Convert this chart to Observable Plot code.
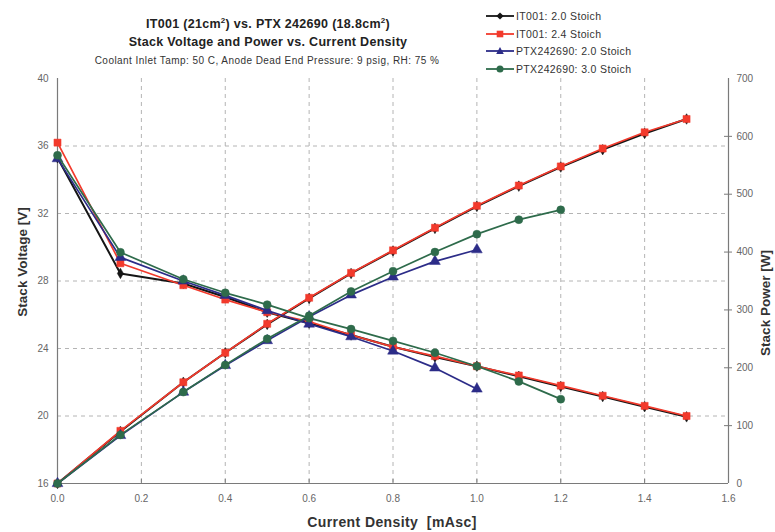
<!DOCTYPE html>
<html>
<head>
<meta charset="utf-8">
<script src="https://cdn.jsdelivr.net/npm/d3@7"></script>
<script src="https://cdn.jsdelivr.net/npm/@observablehq/plot@0.6"></script>
<style>
  html, body { margin: 0; padding: 0; background: #fff; }
  #wrap { position: relative; width: 775px; height: 532px; font-family: "Liberation Sans", Arial, sans-serif; }
  #chart { position: absolute; left: 0; top: 0; }
  .t { position: absolute; white-space: nowrap; color: #222; }
  .title { font-weight: bold; font-size: 12.5px; letter-spacing: 0.3px; transform: translateX(-50%); }
  .sub { font-size: 10px; letter-spacing: 0.45px; transform: translateX(-50%); color: #333; }
  .axlab { font-weight: bold; font-size: 13.5px; color: #333; }
  .leg { position: absolute; left: 486px; display: flex; align-items: center; font-size: 10.5px; letter-spacing: 0.35px; color: #333; }
  .leg svg { margin-right: 2px; }
</style>
</head>
<body>
<div id="wrap">
  <div id="chart"></div>
  <div class="t title" style="left:268px; top:17px;">IT001 (21cm<sup style="font-size:8px;vertical-align:5px;line-height:0">2</sup>) vs. PTX 242690 (18.8cm<sup style="font-size:8px;vertical-align:5px;line-height:0">2</sup>)</div>
  <div class="t title" style="left:268px; top:35px;">Stack Voltage and Power vs. Current Density</div>
  <div class="t sub" style="left:267px; top:55px;">Coolant Inlet Tamp: 50 C, Anode Dead End Pressure: 9 psig, RH: 75 %</div>
  <div id="legend"></div>
  <div class="t axlab" style="left:22px; top:262px; transform: translate(-50%,-50%) rotate(-90deg);">Stack Voltage [V]</div>
  <div class="t axlab" style="left:765px; top:303px; transform: translate(-50%,-50%) rotate(-90deg);">Stack Power [W]</div>
  <div class="t axlab" style="left:392px; top:522px; font-size:14px; letter-spacing:0.4px; transform: translate(-50%,-50%);">Current Density&nbsp; [mAsc]</div>
</div>
<script>
// ---- data ----
const currentDensity = [0, 0.15, 0.3, 0.4, 0.5, 0.6, 0.7, 0.8, 0.9, 1.0, 1.1, 1.2, 1.3, 1.4, 1.5];

const seriesNames = ["IT001: 2.0 Stoich", "IT001: 2.4 Stoich", "PTX242690: 2.0 Stoich", "PTX242690: 3.0 Stoich"];
const seriesColors = ["#151515", "#f23a2c", "#2c2c88", "#2e6b4b"];
const seriesSymbols = ["diamond", "square", "triangle", "circle"];

const it001_20_voltage = [35.3, 28.45, 27.85, 27.05, 26.15, 25.5, 24.8, 24.1, 23.5, 22.95, 22.35, 21.75, 21.15, 20.55, 19.95];
const it001_20_power   = [0, 90, 175, 226, 275, 320, 363, 402, 441, 479, 514, 547, 577, 605, 630];

const it001_24_voltage = [36.2, 29.05, 27.75, 26.9, 26.15, 25.6, 24.8, 24.1, 23.55, 22.95, 22.4, 21.8, 21.2, 20.6, 20.0];
const it001_24_power   = [0, 91, 175, 226, 276, 321, 364, 403, 442, 480, 515, 548, 579, 607, 630];

const ptx_20_voltage = [35.25, 29.4, 28.0, 27.15, 26.25, 25.45, 24.7, 23.85, 22.85, 21.6];
const ptx_20_power   = [0, 83, 158, 204, 247, 288, 326, 357, 384, 404];

const ptx_30_voltage = [35.45, 29.7, 28.1, 27.3, 26.6, 25.8, 25.15, 24.45, 23.75, 22.95, 22.05, 21.0];
const ptx_30_power   = [0, 84, 158, 205, 250, 290, 332, 367, 400, 431, 456, 473];

const xTicks = [0, 0.2, 0.4, 0.6, 0.8, 1.0, 1.2, 1.4, 1.6];
const voltageTicks = [16, 20, 24, 28, 32, 36, 40];
const powerTicks = [0, 100, 200, 300, 400, 500, 600, 700];

// ---- build ----
const vMin = 16, vMax = 40, pMax = 700;
const powerToV = p => vMin + p / pMax * (vMax - vMin);
const vToPower = v => Math.round((v - vMin) / (vMax - vMin) * pMax);

const voltageSets = [it001_20_voltage, it001_24_voltage, ptx_20_voltage, ptx_30_voltage];
const powerSets = [it001_20_power, it001_24_power, ptx_20_power, ptx_30_power];

const seriesMarks = [];
seriesNames.forEach((name, s) => {
  const color = seriesColors[s];
  const vRows = voltageSets[s].map((v, i) => ({x: currentDensity[i], y: v}));
  const pRows = powerSets[s].map((p, i) => ({x: currentDensity[i], y: powerToV(p)}));
  const r = s === 0 ? 3.2 : 4;
  for (const rows of [vRows, pRows]) {
    seriesMarks.push(Plot.line(rows, {x: "x", y: "y", stroke: color, strokeWidth: s === 0 ? 2 : 1.7}));
    seriesMarks.push(Plot.dot(rows, {x: "x", y: "y", fill: color, stroke: color, strokeWidth: 0.5, symbol: seriesSymbols[s], r}));
  }
});

const dxTick = 4 / (671 / 1.6);
const dyTick = 4 / (405 / 24);

const chart = Plot.plot({
  width: 775,
  height: 532,
  marginLeft: 57,
  marginRight: 47,
  marginTop: 78,
  marginBottom: 49,
  x: {domain: [0, 1.6]},
  y: {domain: [vMin, vMax]},
  style: {fontFamily: "'Liberation Sans', Arial, sans-serif", fontSize: "10px", color: "#666", background: "#fff"},
  marks: [
    Plot.gridX(xTicks.slice(1, -1), {stroke: "#b4b4b4", strokeOpacity: 1, strokeDasharray: "4,4"}),
    Plot.gridY(voltageTicks.slice(1, -1), {stroke: "#b4b4b4", strokeOpacity: 1, strokeDasharray: "4,4"}),
    Plot.ruleX([0, 1.6], {stroke: "#7a7a7a", strokeWidth: 1.2}),
    Plot.ruleY([vMin], {stroke: "#7a7a7a", strokeWidth: 1.2}),
    Plot.ruleX(xTicks.slice(1, -1), {x: d => d, y1: vMin, y2: vMin + dyTick, stroke: "#7a7a7a"}),
    Plot.ruleY(powerTicks.slice(1, -1).map(powerToV), {y: d => d, x1: 1.6 - dxTick, x2: 1.6 + dxTick, stroke: "#7a7a7a"}),
    Plot.axisX(xTicks, {tickSize: 0, tickPadding: 11, tickFormat: d3.format(".1f"), label: null}),
    Plot.axisY(voltageTicks, {tickSize: 0, tickPadding: 9, label: null}),
    Plot.axisY(powerTicks.map(powerToV), {anchor: "right", tickSize: 0, tickPadding: 8, tickFormat: vToPower, label: null}),
    ...seriesMarks
  ]
});
document.getElementById("chart").appendChild(chart);

// ---- legend ----
const legend = document.getElementById("legend");
const legTops = [16, 33.5, 51, 68.5];
const symPath = {
  diamond: "M0,-3.6L3.6,0L0,3.6L-3.6,0Z",
  square: "M-3.3,-3.3H3.3V3.3H-3.3Z",
  triangle: "M0,-4L3.8,3H-3.8Z",
  circle: "M3.5,0A3.5,3.5,0,1,1,-3.5,0A3.5,3.5,0,1,1,3.5,0"
};
seriesNames.forEach((name, s) => {
  const div = document.createElement("div");
  div.className = "leg";
  div.style.top = (legTops[s] - 6) + "px";
  div.innerHTML = `<svg width="28" height="12"><line x1="0" y1="6" x2="28" y2="6" stroke="${seriesColors[s]}" stroke-width="1.8"/><path transform="translate(14,6)" d="${symPath[seriesSymbols[s]]}" fill="${seriesColors[s]}"/></svg><span>${name}</span>`;
  legend.appendChild(div);
});
</script>
</body>
</html>
